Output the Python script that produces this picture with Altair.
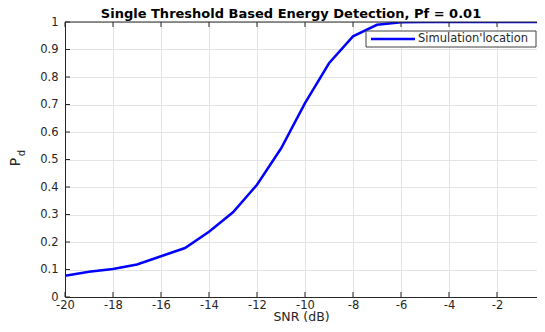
import altair as alt
import pandas as pd

snr = list(range(-20, 1))
pd_vals = [0.077, 0.092, 0.102, 0.118, 0.148, 0.178, 0.237, 0.308, 0.408, 0.540,
           0.705, 0.850, 0.948, 0.990, 0.999, 1.0, 1.0, 1.0, 1.0, 1.0, 1.0]
series = "Simulation'location"
x_ticks = list(range(-20, 1, 2))
y_ticks = [round(i * 0.1, 1) for i in range(11)]
title = "Single Threshold Based Energy Detection, Pf = 0.01"

df = pd.DataFrame({"snr": snr, "pd": pd_vals, "series": series})
xt = pd.DataFrame({"t": x_ticks})
yt = pd.DataFrame({"t": y_ticks})

# the original figure is cropped on the right: x = 0 falls just past the visible edge
W, H = 472, 275
FONT = "DejaVu Sans"
INK = "#262626"

xscale = alt.Scale(domain=[-20, -1 / 3], nice=False, zero=False)
yscale = alt.Scale(domain=[0, 1], nice=False)

xaxis = alt.Axis(title="SNR (dB)", values=x_ticks, labelExpr="toString(datum.value)",
                 tickSize=0, labelPadding=2, domain=True,
                 domainColor=INK, labelFlush=False, labelOverlap=False,
                 gridColor="#e3e3e3", labelFontSize=11.5, titleFontSize=12.5,
                 titleY=26.5, titleBaseline="bottom",
                 titleFontWeight="normal", labelColor=INK, titleColor=INK)
yaxis = alt.Axis(title=None, values=y_ticks, labelExpr="toString(datum.value)",
                 tickSize=0, labelPadding=7, domain=True, domainColor=INK,
                 labelFlush=False, labelOverlap=False,
                 gridColor="#e3e3e3", labelFontSize=11.5, labelColor=INK)

line = alt.Chart(df).mark_line(strokeWidth=2.5, color="#0000ff", clip=True).encode(
    x=alt.X("snr:Q", scale=xscale, axis=xaxis),
    y=alt.Y("pd:Q", scale=yscale, axis=yaxis),
)

bticks = alt.Chart(xt).mark_rule(color=INK, strokeWidth=1).encode(
    x=alt.X("t:Q", scale=xscale, axis=xaxis), y=alt.value(H), y2=alt.value(H - 5))
tticks = alt.Chart(xt).mark_rule(color=INK, strokeWidth=1).encode(
    x=alt.X("t:Q", scale=xscale, axis=xaxis), y=alt.value(0), y2=alt.value(5))
lticks = alt.Chart(yt).mark_rule(color=INK, strokeWidth=1).encode(
    y=alt.Y("t:Q", scale=yscale, axis=yaxis), x=alt.value(0), x2=alt.value(5))

top_border = alt.Chart(pd.DataFrame({"s": [0]})).mark_rule(color=INK, strokeWidth=1).encode(
    x=alt.value(0), x2=alt.value(W), y=alt.value(0))

ylab_p = alt.Chart(pd.DataFrame({"s": ["P"]})).mark_text(
    angle=270, fontSize=14, font=FONT, color=INK).encode(
    text="s:N", x=alt.value(-49), y=alt.value(140))
ylab_d = alt.Chart(pd.DataFrame({"s": ["d"]})).mark_text(
    angle=270, fontSize=10, font=FONT, color=INK).encode(
    text="s:N", x=alt.value(-43), y=alt.value(131))

title_mark = alt.Chart(pd.DataFrame({"s": [title]})).mark_text(
    fontSize=13, fontWeight="bold", font=FONT, color="black", baseline="alphabetic").encode(
    text="s:N", x=alt.value(226), y=alt.value(-4))

leg_df = pd.DataFrame({"s": [series]})
leg_box = alt.Chart(leg_df).mark_rect(fill="white", stroke="#404040", strokeWidth=1).encode(
    x=alt.value(301), x2=alt.value(471), y=alt.value(9), y2=alt.value(25))
leg_line = alt.Chart(leg_df).mark_rule(color="#0000ff", strokeWidth=2.5).encode(
    x=alt.value(306), x2=alt.value(350), y=alt.value(17))
leg_text = alt.Chart(leg_df).mark_text(
    fontSize=11.5, font=FONT, color=INK, align="left", baseline="middle").encode(
    text="s:N", x=alt.value(353), y=alt.value(17))

chart = alt.layer(line, bticks, tticks, lticks, top_border, ylab_p, ylab_d, title_mark,
                  leg_box, leg_line, leg_text).properties(
    width=W, height=H,
    autosize=alt.AutoSizeParams(type="none"),
    padding={"left": 57, "top": 14, "right": 0, "bottom": 27},
).configure(font=FONT).configure_view(stroke=None)

chart.save("out.html", embed_options={"renderer": "svg", "actions": False})
